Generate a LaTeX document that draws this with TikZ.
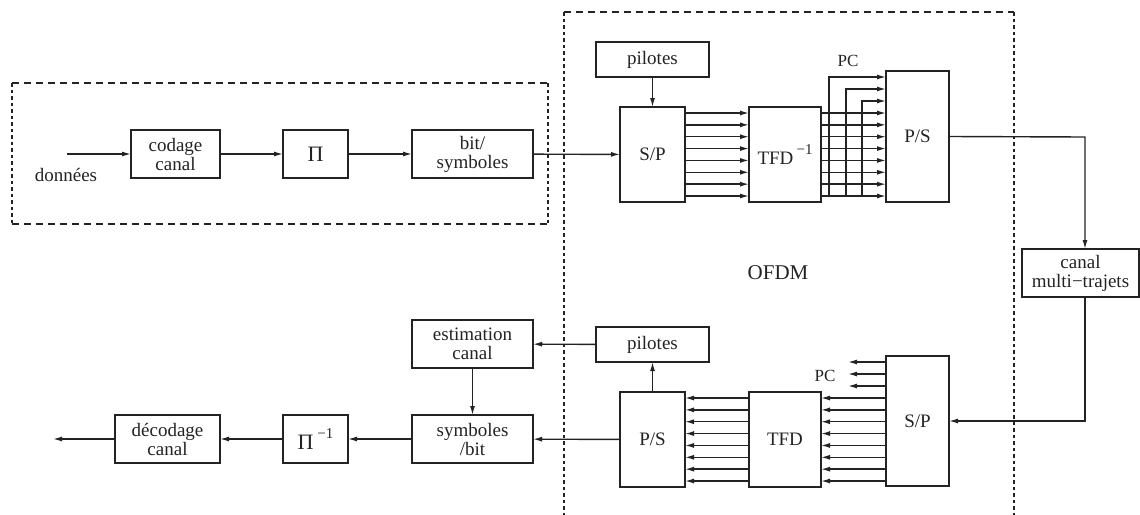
\documentclass[tikz,border=0pt]{standalone}
\usepackage{fontspec}
\setmainfont{Liberation Serif}
\usetikzlibrary{arrows.meta,calc}
\definecolor{ink}{RGB}{35,35,35}
\begin{document}
\begin{tikzpicture}[x=1pt,y=-1pt,
  every node/.style={text=ink},
  blk/.style={draw=ink, line width=1.7pt, inner sep=0pt, outer sep=0pt, align=center,
    font=\fontsize{19pt}{19pt}\selectfont},
  arr/.style={draw=ink, line width=1.4pt, -{Latex[length=9pt,width=5pt]}},
  dsh/.style={draw=ink, line width=1.4pt, dash pattern=on 7pt off 5pt},
  dshv/.style={draw=ink, line width=1.4pt, dash pattern=on 3.5pt off 3pt},
  lbl/.style={font=\fontsize{19pt}{19pt}\selectfont}
]
\useasboundingbox (0,0) rectangle (1140,514);

% dashed frames
\draw[dsh] (12,83) -- (548,83);
\draw[dsh] (12,224) -- (548,224);
\draw[dshv] (12,83) -- (12,224);
\draw[dshv] (548,83) -- (548,224);
\draw[dsh] (564,12) -- (1014,12);
\draw[dshv] (564,12) -- (564,516);
\draw[dshv] (1014,12) -- (1014,516);

% top chain
\node[blk, minimum width=89pt, minimum height=48pt] (codage) at (175.5,154) {codage\\canal};
\node[blk, minimum width=65pt, minimum height=48pt, font=\fontsize{22pt}{22pt}\selectfont] (pi) at (315.5,154) {Π};
\node[blk, minimum width=121pt, minimum height=48pt] (bits) at (472.5,154) {bit/\\symboles};
\node[blk, minimum width=113pt, minimum height=35pt] (pil1) at (652.5,59.5) {pilotes};
\node[blk, minimum width=65pt, minimum height=95pt] (sp1) at (652.5,154.5) {S/P};
\node[blk, minimum width=72pt, minimum height=95pt] (ifft) at (785,154.5) {TFD\,\raisebox{1.2ex}{\fontsize{15pt}{15pt}\selectfont −1}};
\node[blk, minimum width=63pt, minimum height=131pt] (ps1) at (917.5,136.5) {P/S};
\node[blk, minimum width=117pt, minimum height=48pt] (canal) at (1080.5,273) {canal\\multi−trajets};

% bottom chain
\node[blk, minimum width=63pt, minimum height=130pt] (sp2) at (917.5,421) {S/P};
\node[blk, minimum width=72pt, minimum height=95pt] (fft) at (785,439.5) {TFD};
\node[blk, minimum width=65pt, minimum height=95pt] (ps2) at (652.5,439.5) {P/S};
\node[blk, minimum width=113pt, minimum height=35pt] (pil2) at (652.5,344.5) {pilotes};
\node[blk, minimum width=121pt, minimum height=48pt] (est) at (472.5,344) {estimation\\canal};
\node[blk, minimum width=121pt, minimum height=48pt] (sb) at (472.5,439) {symboles\\/bit};
\node[blk, minimum width=65pt, minimum height=48pt, font=\fontsize{22pt}{22pt}\selectfont] (pinv) at (315.5,439) {Π\,\raisebox{1.0ex}{\fontsize{15pt}{15pt}\selectfont −1}};
\node[blk, minimum width=105pt, minimum height=48pt] (dec) at (167.5,439) {décodage\\canal};

% labels
\node[lbl] (don) at (66,175) {données};
\node[font=\fontsize{21pt}{21pt}\selectfont] (ofdm) at (778,273) {OFDM};
\node[font=\fontsize{17pt}{17pt}\selectfont] (pc1lbl) at (848,61) {PC};
\node[font=\fontsize{17pt}{17pt}\selectfont] (pc2lbl) at (825,376) {PC};

% top connectors
\coordinate (din) at (67,154);
\draw[arr] (din) -- (codage);
\draw[arr] (codage) -- (pi);
\draw[arr] (pi) -- (bits);
\draw[arr] (bits) -- (sp1);
\draw[arr] (pil1) -- (sp1);
\foreach \k in {0,...,7}{
  \coordinate (a\k) at ([yshift={-(6+\k*11.86)*1pt}]sp1.north east);
  \draw[arr] (a\k) -- (ifft.west |- a\k);
  \draw[arr] (ifft.east |- a\k) -- (ps1.west |- a\k);
}
\coordinate (pcA) at (829,77);
\coordinate (pcB) at (846,89);
\coordinate (pcC) at (862,101);
\foreach \c in {pcA,pcB,pcC}{
  \draw[arr] (\c |- a7) -- (\c) -- (ps1.west |- \c);
}

% channel
\coordinate (cx) at (1085,137);
\draw[arr] (ps1.east) -- (cx) -- (cx |- canal.north);
\draw[arr] (cx |- canal.south) |- (sp2.east);

% bottom connectors
\foreach \k in {0,...,7}{
  \coordinate (b\k) at ([yshift={-(6+\k*11.86)*1pt}]fft.north east);
  \draw[arr] (sp2.west |- b\k) -- (b\k);
  \draw[arr] (fft.west |- b\k) -- (ps2.east |- b\k);
}
\coordinate (qA) at (848,362);
\coordinate (qB) at (848,374);
\coordinate (qC) at (848,386);
\foreach \c in {qA,qB,qC}{
  \draw[arr] (sp2.west |- \c) -- (\c);
}
\draw[arr] (ps2) -- (pil2);
\draw[arr] (pil2) -- (est);
\draw[arr] (est) -- (sb);
\draw[arr] (ps2) -- (sb);
\draw[arr] (sb) -- (pinv);
\draw[arr] (pinv) -- (dec);
\coordinate (dout) at (53,439);
\draw[arr] (dec) -- (dout);
\end{tikzpicture}
\end{document}
